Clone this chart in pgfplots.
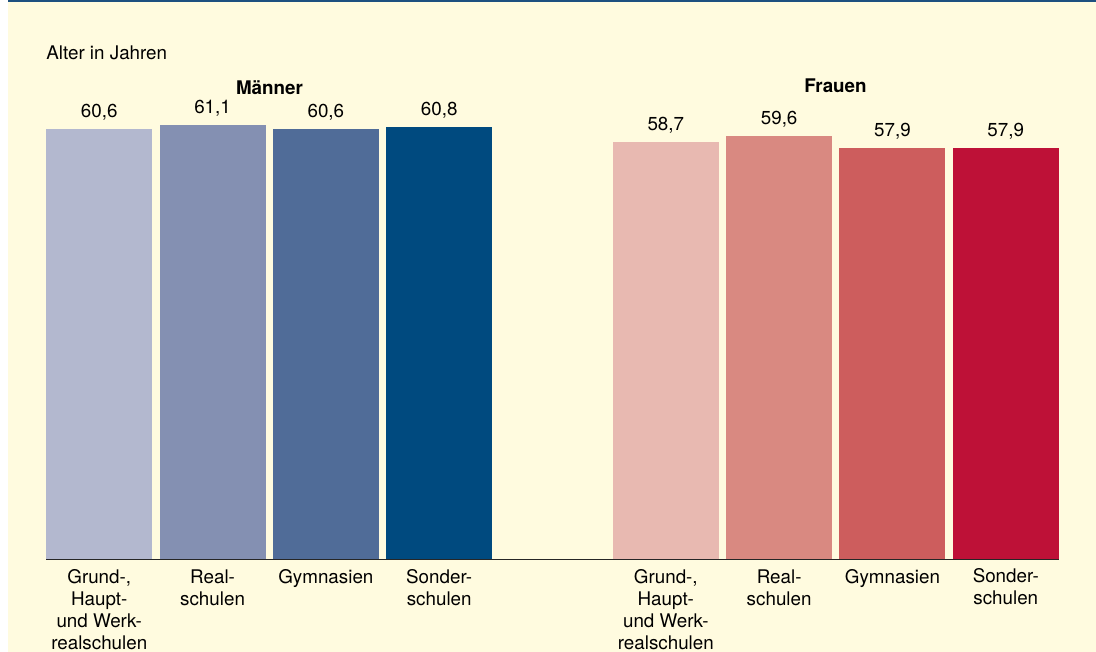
\documentclass[border=0pt]{standalone}
\usepackage{fontspec}
\setmainfont{TeX Gyre Heros}
\usepackage{pgfplots}
\pgfplotsset{compat=1.18}

\definecolor{bgyellow}{HTML}{FFFBDF}
\definecolor{topblue}{HTML}{1D5080}
\definecolor{m1}{HTML}{B3B8CF}
\definecolor{m2}{HTML}{8490B2}
\definecolor{m3}{HTML}{506C98}
\definecolor{m4}{HTML}{004A7F}
\definecolor{f1}{HTML}{E8B9B1}
\definecolor{f2}{HTML}{D98981}
\definecolor{f3}{HTML}{CD5D5D}
\definecolor{f4}{HTML}{BE1137}

\newcommand{\chartfont}{\fontsize{9.4}{11}\selectfont}

\begin{document}
\begin{tikzpicture}
\useasboundingbox (-23pt,-46.5pt) rectangle (525pt,279.5pt);
\fill[white] (-23pt,-46.5pt) rectangle (525pt,279.5pt);
\fill[bgyellow] (-19pt,-46.5pt) rectangle (525pt,279.5pt);
\fill[topblue] (-19pt,278.3pt) rectangle (525pt,279.5pt);
\begin{axis}[
    at={(0pt,0pt)}, anchor=south west,
    scale only axis,
    width=506.5pt, height=248.5pt,
    xmin=-0.47, xmax=8.47,
    ymin=0, ymax=70,
    ybar, bar width=53pt, bar shift=0pt,
    axis x line*=bottom,
    axis y line=none,
    axis line style={black!85, line width=0.5pt, -},
    xtick={0,1,2,3,5,6,7,8},
    xticklabels={
        {\strut Grund-,\\Haupt-\\und Werk-\\realschulen},
        {\strut Real-\\schulen},
        {\strut Gymnasien},
        {\strut Sonder-\\schulen},
        {\strut Grund-,\\Haupt-\\und Werk-\\realschulen},
        {\strut Real-\\schulen},
        {\strut Gymnasien},
        {\rule{0pt}{5.2pt}Sonder-\\schulen}},
    major tick length=0pt,
    xticklabel style={font=\chartfont, align=center, inner sep=0pt,
        anchor=north, yshift=-4.45pt},
    clip=false,
    nodes near coords={\pgfmathprintnumber[fixed,fixed zerofill,precision=1,
        use comma,assume math mode=true]{\pgfplotspointmeta}},
    every node near coord/.append style={font=\chartfont, inner sep=0pt,
        text depth=0pt, yshift=5.5pt, black},
]
\addplot[fill=m1, draw=none] coordinates {(0,60.6)};
\addplot[fill=m2, draw=none] coordinates {(1,61.1)};
\addplot[fill=m3, draw=none] coordinates {(2,60.6)};
\addplot[fill=m4, draw=none] coordinates {(3,60.8)};
\addplot[fill=f1, draw=none] coordinates {(5,58.7)};
\addplot[fill=f2, draw=none] coordinates {(6,59.6)};
\addplot[fill=f3, draw=none] coordinates {(7,57.9)};
\addplot[fill=f4, draw=none] coordinates {(8,57.9)};
\end{axis}
\node[anchor=base west, font=\chartfont, inner sep=0pt] at (0pt,249.5pt) {Alter in Jahren};
\node[anchor=base, font=\chartfont\bfseries, inner sep=0pt] at (111.75pt,232pt) {Männer};
\node[anchor=base, font=\chartfont\bfseries, inner sep=0pt] at (394.75pt,233pt) {Frauen};
\end{tikzpicture}
\end{document}
